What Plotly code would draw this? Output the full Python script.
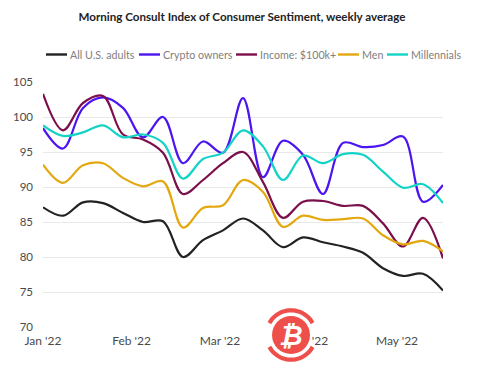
import math
import plotly.graph_objects as go

weeks = list(range(21))
all_adults = [87.1, 85.9, 87.8, 87.7, 86.3, 85.0, 85.1, 80.0, 82.4, 83.8, 85.5, 83.8, 81.4, 82.8, 82.1, 81.5, 80.6, 78.4, 77.3, 77.6, 75.2]
crypto = [98.4, 95.5, 101.3, 102.8, 101.3, 97.1, 100.0, 93.4, 96.5, 94.9, 102.7, 91.4, 96.6, 94.6, 89.0, 96.3, 95.7, 96.0, 97.2, 87.9, 90.3]
income = [103.3, 98.1, 102.0, 103.0, 97.5, 96.8, 94.9, 89.0, 91.0, 93.4, 95.0, 90.7, 85.6, 87.9, 88.0, 87.3, 87.3, 84.8, 81.5, 85.6, 79.8]
men = [93.2, 90.6, 93.1, 93.4, 91.3, 90.1, 90.8, 84.2, 87.0, 87.4, 91.0, 89.3, 84.3, 85.9, 85.3, 85.4, 85.5, 83.1, 81.8, 82.3, 80.8]
millennials = [98.8, 97.3, 97.8, 98.8, 97.1, 97.5, 96.3, 91.2, 94.0, 94.9, 98.1, 95.8, 91.0, 94.5, 93.4, 94.7, 94.6, 92.2, 89.9, 90.4, 87.7]

series_names = ["All U.S. adults", "Crypto owners", "Income: $100k+", "Men", "Millennials"]
series_values = [all_adults, crypto, income, men, millennials]
series_colors = ["#222222", "#4b14f0", "#7b0f4b", "#e3a80f", "#12d3c6"]

month_labels = ["Jan '22", "Feb '22", "Mar '22", "Apr '22", "May '22"]
month_positions = [0, 4.43, 8.85, 13.3, 17.7]
y_ticks = [70, 75, 80, 85, 90, 95, 100, 105]

# the page body has an 8px margin, so the figure is laid out relative to it
OFF = 8
W, H = 477, 367
L, R, T, B = 35, 42, 74, 48
FONT = "Lato, 'Open Sans', sans-serif"

def px(x):
    return (x - OFF - L) / (W - L - R)

def py(y):
    return 1 - (y - OFF - T) / (H - T - B)

fig = go.Figure()
for name, vals, col in zip(series_names, series_values, series_colors):
    fig.add_trace(go.Scatter(x=weeks, y=vals, mode="lines", name=name,
                             line=dict(color=col, width=2.2, shape="spline", smoothing=1.0),
                             cliponaxis=False, hoverinfo="x+y+name"))

shapes = []
annotations = []

# legend, laid out tightly as in the reference
legend_x = [46, 139, 236, 338, 387]
for name, col, x0 in zip(series_names, series_colors, legend_x):
    shapes.append(dict(type="line", xref="paper", yref="paper",
                       x0=px(x0), x1=px(x0 + 21), y0=py(54.5), y1=py(54.5),
                       line=dict(color=col, width=2.4)))
    annotations.append(dict(text=name, xref="paper", yref="paper", x=px(x0 + 22), y=py(54.5),
                            xanchor="left", yanchor="middle", showarrow=False,
                            font=dict(family=FONT, size=10.7, color="#808080")))

# watermark logo
logo_col = "#ee4f4a"
cx, cy, r = 291, 335, 19
shapes.append(dict(type="circle", xref="paper", yref="paper", layer="above",
                   x0=px(cx - r), x1=px(cx + r), y0=py(cy + r), y1=py(cy - r),
                   fillcolor=logo_col, line=dict(width=0)))
for a0, a1 in [(29, 151), (209, 331)]:
    steps = 24
    pts = []
    for k in range(steps + 1):
        a = math.radians(a0 + (a1 - a0) * k / steps)
        pts.append((px(cx + 24.7 * math.cos(a)), py(cy - 24.7 * math.sin(a))))
    path = "M" + " L".join(f"{x:.4f},{y:.4f}" for x, y in pts)
    shapes.append(dict(type="path", xref="paper", yref="paper", layer="above", path=path,
                       line=dict(color=logo_col, width=4.2)))
annotations.append(dict(text="<b><i>₿</i></b>", xref="paper", yref="paper", x=px(cx), y=py(cy),
                        xanchor="center", yanchor="middle", showarrow=False,
                        font=dict(family="'DejaVu Sans', sans-serif", size=27, color="white")))

fig.update_layout(
    width=W, height=H, autosize=False,
    margin=dict(l=L, r=R, t=T, b=B),
    paper_bgcolor="white", plot_bgcolor="white",
    showlegend=False,
    title=dict(text="<b>Morning Consult Index of Consumer Sentiment, weekly average</b>",
               x=(242 - OFF) / W, xanchor="center", y=1 - (16.5 - OFF) / H, yanchor="middle",
               font=dict(family=FONT, size=11.6, color="#222222")),
    xaxis=dict(range=[0, 20], tickmode="array", tickvals=month_positions, ticktext=month_labels,
               automargin=False,
               showgrid=False, zeroline=False, showline=False, ticks="", ticklabelstandoff=5,
               tickfont=dict(family=FONT, size=12, color="#4a4a4a")),
    yaxis=dict(range=[70, 105], tickmode="array", tickvals=y_ticks,
               automargin=False,
               showgrid=True, gridcolor="#e9e9e9", gridwidth=1.3, zeroline=False, showline=False,
               ticks="", ticklabelstandoff=9,
               tickfont=dict(family=FONT, size=11.5, color="#4a4a4a")),
    shapes=shapes, annotations=annotations,
)
fig.write_html("out.html")
